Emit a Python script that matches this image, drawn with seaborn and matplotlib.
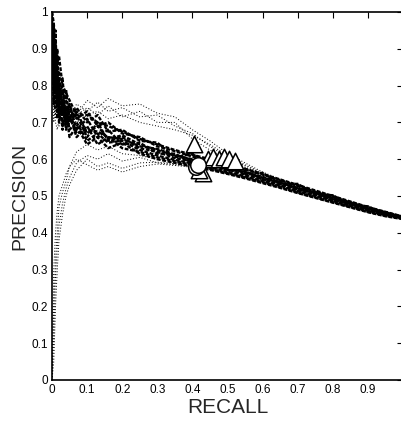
import matplotlib
matplotlib.use("Agg")
import matplotlib.pyplot as plt
import pandas as pd
import seaborn as sns
from matplotlib.ticker import FuncFormatter

# recall points shared by all curves
recall = [0.0, 0.005, 0.01, 0.015, 0.02, 0.03, 0.04, 0.05, 0.07, 0.1, 0.13, 0.16, 0.2,
          0.25, 0.3, 0.35, 0.4, 0.45, 0.5, 0.55, 0.6, 0.65, 0.7, 0.75, 0.8, 0.85, 0.9, 0.95, 1.0]

# dense band of curves
band_1 = [1.00, 0.97, 0.90, 0.86, 0.88, 0.80, 0.78, 0.76, 0.72, 0.72, 0.70, 0.69, 0.675, 0.655, 0.64,
          0.625, 0.612, 0.60, 0.588, 0.574, 0.56, 0.545, 0.53, 0.515, 0.50, 0.485, 0.47, 0.457, 0.444]
band_2 = [0.93, 0.82, 0.95, 0.78, 0.84, 0.72, 0.79, 0.70, 0.73, 0.67, 0.69, 0.655, 0.665, 0.64, 0.625,
          0.61, 0.60, 0.59, 0.578, 0.565, 0.552, 0.537, 0.522, 0.508, 0.494, 0.48, 0.466, 0.454, 0.442]
band_3 = [0.98, 0.88, 0.78, 0.90, 0.74, 0.82, 0.70, 0.75, 0.68, 0.71, 0.66, 0.68, 0.64, 0.645, 0.615,
          0.615, 0.59, 0.592, 0.57, 0.568, 0.545, 0.54, 0.517, 0.51, 0.489, 0.481, 0.461, 0.453, 0.44]
band_4 = [0.86, 0.94, 0.84, 0.74, 0.80, 0.69, 0.74, 0.68, 0.70, 0.65, 0.67, 0.645, 0.65, 0.625, 0.61,
          0.598, 0.588, 0.578, 0.566, 0.553, 0.541, 0.528, 0.513, 0.50, 0.487, 0.473, 0.46, 0.449, 0.44]
band_5 = [0.95, 0.78, 0.88, 0.80, 0.70, 0.76, 0.68, 0.72, 0.66, 0.69, 0.64, 0.66, 0.63, 0.62, 0.605,
          0.595, 0.584, 0.574, 0.562, 0.55, 0.537, 0.524, 0.509, 0.496, 0.483, 0.47, 0.457, 0.446, 0.438]
band_6 = [1.00, 0.90, 0.80, 0.84, 0.76, 0.78, 0.72, 0.74, 0.71, 0.73, 0.69, 0.70, 0.67, 0.66, 0.635,
          0.622, 0.607, 0.597, 0.585, 0.572, 0.558, 0.543, 0.527, 0.512, 0.497, 0.483, 0.468, 0.456, 0.443]
band_7 = [0.90, 0.75, 0.86, 0.71, 0.78, 0.68, 0.73, 0.66, 0.69, 0.64, 0.66, 0.63, 0.645, 0.615, 0.60,
          0.59, 0.58, 0.571, 0.56, 0.548, 0.535, 0.522, 0.508, 0.495, 0.482, 0.469, 0.456, 0.445, 0.437]
band_8 = [0.97, 0.92, 0.82, 0.88, 0.72, 0.79, 0.76, 0.71, 0.74, 0.70, 0.72, 0.675, 0.68, 0.65, 0.645,
          0.605, 0.615, 0.585, 0.59, 0.56, 0.563, 0.532, 0.533, 0.505, 0.502, 0.476, 0.472, 0.45, 0.445]
band_9 = [0.92, 0.86, 0.92, 0.76, 0.82, 0.74, 0.70, 0.73, 0.67, 0.68, 0.675, 0.66, 0.655, 0.635, 0.628,
          0.612, 0.598, 0.588, 0.576, 0.563, 0.55, 0.536, 0.521, 0.507, 0.493, 0.479, 0.465, 0.453, 0.441]
band_10 = [0.88, 0.96, 0.74, 0.82, 0.72, 0.75, 0.69, 0.70, 0.72, 0.66, 0.70, 0.65, 0.66, 0.63, 0.62,
           0.603, 0.594, 0.582, 0.572, 0.558, 0.546, 0.531, 0.517, 0.503, 0.49, 0.476, 0.463, 0.451, 0.44]

# sparse curves above the band
upper_1 = [1.0, 0.75, 0.70, 0.68, 0.71, 0.73, 0.70, 0.74, 0.72, 0.76, 0.74, 0.765, 0.745, 0.75, 0.725,
           0.715, 0.68, 0.65, 0.615, 0.59, 0.565, 0.546, 0.53, 0.515, 0.50, 0.486, 0.471, 0.458, 0.445]
upper_2 = [0.9, 0.80, 0.72, 0.75, 0.69, 0.72, 0.74, 0.71, 0.75, 0.73, 0.755, 0.73, 0.74, 0.715, 0.72,
           0.69, 0.67, 0.635, 0.605, 0.582, 0.56, 0.542, 0.527, 0.512, 0.497, 0.483, 0.469, 0.456, 0.444]
upper_3 = [0.95, 0.70, 0.76, 0.71, 0.74, 0.69, 0.73, 0.75, 0.72, 0.74, 0.72, 0.745, 0.715, 0.73, 0.70,
           0.70, 0.655, 0.625, 0.60, 0.578, 0.557, 0.54, 0.525, 0.51, 0.496, 0.482, 0.468, 0.455, 0.443]
upper_4 = [0.85, 0.78, 0.71, 0.73, 0.70, 0.74, 0.71, 0.72, 0.70, 0.72, 0.73, 0.71, 0.72, 0.70, 0.69,
           0.68, 0.665, 0.64, 0.61, 0.585, 0.562, 0.543, 0.528, 0.513, 0.498, 0.484, 0.47, 0.457, 0.444]

# sparse curves rising from the origin
lower_1 = [0.0, 0.12, 0.28, 0.36, 0.42, 0.48, 0.52, 0.55, 0.59, 0.61, 0.60, 0.615, 0.595, 0.605, 0.59,
           0.585, 0.58, 0.573, 0.563, 0.552, 0.54, 0.527, 0.513, 0.50, 0.487, 0.474, 0.461, 0.449, 0.44]
lower_2 = [0.0, 0.30, 0.40, 0.46, 0.50, 0.53, 0.56, 0.58, 0.60, 0.585, 0.57, 0.58, 0.565, 0.58, 0.587,
           0.583, 0.578, 0.571, 0.561, 0.55, 0.538, 0.525, 0.511, 0.498, 0.485, 0.472, 0.459, 0.447, 0.439]
lower_3 = [0.0, 0.20, 0.33, 0.40, 0.47, 0.51, 0.54, 0.58, 0.62, 0.64, 0.625, 0.635, 0.615, 0.61, 0.60,
           0.59, 0.585, 0.577, 0.567, 0.556, 0.544, 0.531, 0.516, 0.503, 0.49, 0.476, 0.462, 0.45, 0.441]
lower_4 = [0.0, 0.05, 0.20, 0.30, 0.38, 0.45, 0.50, 0.53, 0.57, 0.60, 0.58, 0.59, 0.575, 0.59, 0.592,
           0.588, 0.582, 0.574, 0.564, 0.553, 0.541, 0.528, 0.514, 0.501, 0.488, 0.475, 0.461, 0.449, 0.44]

# operating points
tri_recall = [0.405, 0.445, 0.46, 0.475, 0.49, 0.505, 0.52, 0.43, 0.42]
tri_precision = [0.64, 0.60, 0.605, 0.60, 0.605, 0.60, 0.595, 0.562, 0.572]
circ_recall = [0.41, 0.415]
circ_precision = [0.58, 0.583]

ticks = [0, 0.1, 0.2, 0.3, 0.4, 0.5, 0.6, 0.7, 0.8, 0.9, 1.0]


def to_long(curves):
    rows = []
    for name, vals in curves.items():
        for r, p in zip(recall, vals):
            rows.append({"curve": name, "recall": r, "precision": p})
    return pd.DataFrame(rows)


band = to_long({"b1": band_1, "b2": band_2, "b3": band_3, "b4": band_4, "b5": band_5,
                "b6": band_6, "b7": band_7, "b8": band_8, "b9": band_9, "b10": band_10})
sparse = to_long({"u1": upper_1, "u2": upper_2, "u3": upper_3, "u4": upper_4,
                  "l1": lower_1, "l2": lower_2, "l3": lower_3, "l4": lower_4})

sns.set_style("white")
plt.rcParams["font.family"] = ["Liberation Sans Narrow", "Liberation Sans", "DejaVu Sans"]

fig = plt.figure(figsize=(4.02, 4.30), dpi=100)
ax = fig.add_axes([52 / 402, 50 / 430, 351 / 402, 368 / 430])

sns.lineplot(data=sparse, x="recall", y="precision", units="curve", estimator=None,
             sort=False, color="black", linestyle=(0, (1, 2)), linewidth=0.7, ax=ax)
sns.lineplot(data=band, x="recall", y="precision", units="curve", estimator=None,
             sort=False, color="black", linestyle=(0, (1.6, 0.7)), linewidth=1.7,
             dash_capstyle="butt", ax=ax)

sns.scatterplot(x=tri_recall, y=tri_precision, marker="^", s=140, facecolor="white",
                edgecolor="black", linewidth=1.1, zorder=5, ax=ax)
sns.scatterplot(x=circ_recall, y=circ_precision, marker="o", s=125, facecolor="white",
                edgecolor="black", linewidth=1.1, zorder=6, ax=ax)

ax.set_xlim(0, 1)
ax.set_ylim(0, 1)
ax.set_xticks(ticks)
ax.set_yticks(ticks)
fmt = FuncFormatter(lambda v, pos: "%g" % v)
ax.xaxis.set_major_formatter(fmt)
ax.yaxis.set_major_formatter(fmt)
ax.tick_params(direction="in", length=4, width=0.8, labelsize=8.5, pad=3,
               top=True, right=True, colors="black")
for sp in ax.spines.values():
    sp.set_color("black")
    sp.set_linewidth(1.2)

ax.set_xlabel("RECALL", fontsize=15, labelpad=1)
ax.set_ylabel("PRECISION", fontsize=14, labelpad=2, family=["Liberation Sans", "DejaVu Sans"])

fig.savefig("out.png", dpi=100)
